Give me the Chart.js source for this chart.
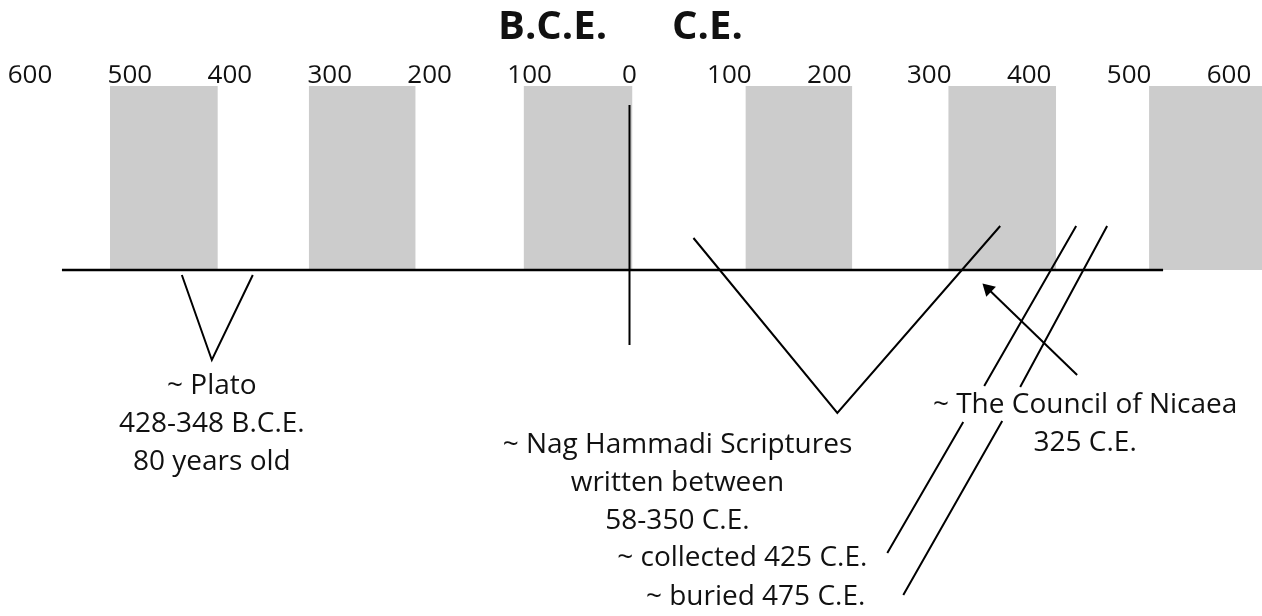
<html>
<head>
  <title>Timeline</title>
  <script src="https://cdn.jsdelivr.net/npm/chart.js@4.4.1/dist/chart.umd.min.js"></script>
  <style>
    html, body { margin: 0; padding: 0; background: #fff; overflow: hidden; }
    .wrap { width: 1262px; height: 616px; position: relative; }
    canvas { display: block; }
  </style>
</head>
<body>
<div class="wrap"><canvas id="timeline"></canvas></div>
<script type="text/javascript">
// years: negative = B.C.E., positive = C.E.
var tickYears = [-600, -500, -400, -300, -200, -100, 0, 100, 200, 300, 400, 500, 600];
var eraLabels = ['B.C.E.', 'C.E.'];

// shaded century bands
var bandStart = [-520, -321, -106, 116, 319, 520];
var bandEnd = [-412, -214, 3, 223, 427, 640];
var bandTop = 184;

// main line and the zero marker
var timelineX = [-568, 534];
var zeroLineY = [165, -75];

// Plato bracket
var platoX = [-448, -418, -377];
var platoY = [-5, -90, -5];
// Nag Hammadi bracket
var nagX = [64, 208, 371];
var nagY = [32, -143, 44];
// collected / buried pointers (null = break for the text)
var collectedX = [447, 355, null, 334, 258];
var collectedY = [44, -116, null, -152, -283];
var buriedX = [478, 391, null, 373, 274];
var buriedY = [44, -117, null, -151, -325];
// Council of Nicaea arrow (tail -> head)
var councilX = [448, 359];
var councilY = [-105, -19];

var platoText = ['~ Plato', '428-348 B.C.E.', '80 years old'];
var nagText = ['~ Nag Hammadi Scriptures', 'written between', '58-350 C.E.'];
var collectedText = ['~ collected 425 C.E.'];
var buriedText = ['~ buried 475 C.E.'];
var councilText = ['~ The Council of Nicaea', '325 C.E.'];

function pts(xs, ys) {
  return xs.map(function (x, i) {
    return x === null ? {x: null, y: null} : {x: x, y: ys[i]};
  });
}

var datasets = [];
for (var i = 0; i < bandStart.length; i++) {
  datasets.push({
    data: [{x: bandStart[i], y: bandTop}, {x: bandEnd[i], y: bandTop}],
    borderWidth: 0,
    backgroundColor: '#cccccc',
    fill: 'origin',
    order: 5
  });
}
datasets.push({data: pts(timelineX, [0, 0]), borderColor: '#000', borderWidth: 2.6, order: 1});
datasets.push({data: pts([0, 0], zeroLineY), borderColor: '#000', borderWidth: 2, order: 1});
datasets.push({data: pts(platoX, platoY), borderColor: '#000', borderWidth: 2, order: 1});
datasets.push({data: pts(nagX, nagY), borderColor: '#000', borderWidth: 2, order: 1});
datasets.push({data: pts(collectedX, collectedY), borderColor: '#000', borderWidth: 2, spanGaps: false, order: 1});
datasets.push({data: pts(buriedX, buriedY), borderColor: '#000', borderWidth: 2, spanGaps: false, order: 1});
datasets.push({
  data: pts(councilX, councilY),
  borderColor: '#000',
  borderWidth: 2,
  pointStyle: 'triangle',
  pointRadius: [0, 8],
  pointRotation: -46,
  pointBackgroundColor: '#000',
  pointBorderWidth: 0,
  order: 1
});

var notes = [
  {lines: eraLabels.slice(0, 1), x: -77, y: 242, bold: true},
  {lines: eraLabels.slice(1), x: 78, y: 242, bold: true},
  {lines: platoText, x: -418, y: -116},
  {lines: nagText, x: 48, y: -175},
  {lines: collectedText, x: 238, y: -288, align: 'right'},
  {lines: buriedText, x: 236, y: -327, align: 'right'},
  {lines: councilText, x: 456, y: -135}
];

var notesPlugin = {
  id: 'notes',
  afterDatasetsDraw: function (chart) {
    var ctx = chart.ctx;
    var xs = chart.scales.x, ys = chart.scales.y;
    ctx.save();
    ctx.fillStyle = '#111';
    ctx.textBaseline = 'middle';
    notes.forEach(function (n) {
      ctx.font = n.bold ? 'bold 40px "Open Sans"' : '28px "Open Sans"';
      ctx.textAlign = n.align || 'center';
      var px = xs.getPixelForValue(n.x);
      var py = ys.getPixelForValue(n.y);
      n.lines.forEach(function (t, k) {
        ctx.fillText(t, px, py + k * 38);
      });
    });
    ctx.restore();
  }
};

new Chart(document.getElementById('timeline'), {
  type: 'scatter',
  data: {datasets: datasets},
  options: {
    responsive: true,
    maintainAspectRatio: false,
    animation: false,
    showLine: true,
    layout: {autoPadding: false, padding: {top: 65.2, left: 0, right: 0, bottom: 0}},
    elements: {point: {radius: 0}, line: {tension: 0}},
    plugins: {legend: {display: false}, tooltip: {enabled: false}},
    scales: {
      x: {
        type: 'linear',
        position: 'top',
        min: -630,
        max: 633,
        grid: {display: false, drawTicks: false},
        border: {display: false},
        afterBuildTicks: function (scale) {
          scale.ticks = tickYears.map(function (v) { return {value: v}; });
        },
        ticks: {
          autoSkip: false,
          maxRotation: 0,
          padding: 0,
          color: '#111',
          font: {family: 'Open Sans', size: 26, lineHeight: 0.8},
          callback: function (v) { return Math.abs(v); }
        }
      },
      y: {
        type: 'linear',
        display: false,
        min: -346,
        max: 184
      }
    }
  },
  plugins: [notesPlugin]
});
</script>
</body>
</html>
